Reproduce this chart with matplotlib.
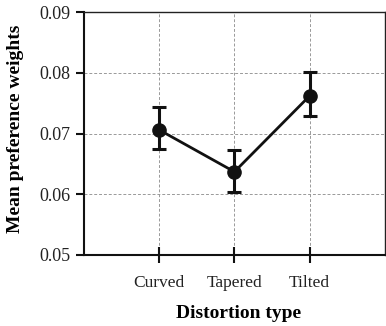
import matplotlib
matplotlib.use("Agg")
import matplotlib.pyplot as plt

categories = ["Curved", "Tapered", "Tilted"]
means = [0.0706, 0.0637, 0.0762]
err_low = [0.0675, 0.0604, 0.0729]
err_high = [0.0744, 0.0673, 0.0801]

plt.rcParams["font.family"] = ["Liberation Serif", "DejaVu Serif"]

fig = plt.figure(figsize=(3.86, 3.26), dpi=100)
ax = fig.add_axes([0.2176, 0.2178, 0.7794, 0.7452])

x = list(range(1, len(categories) + 1))
yerr = [[m - lo for m, lo in zip(means, err_low)],
        [hi - m for m, hi in zip(means, err_high)]]

ax.errorbar(x, means, yerr=yerr, color="#111111", linewidth=2.0,
            marker="o", markersize=9.5, elinewidth=2.2, capsize=4.8,
            capthick=2.2, zorder=3)

ax.set_xlim(0, 4)
ax.set_ylim(0.05, 0.09)
ax.set_xticks(x)
ax.set_xticklabels(categories)
ax.set_yticks([0.05, 0.06, 0.07, 0.08, 0.09])
ax.set_yticklabels(["0.05", "0.06", "0.07", "0.08", "0.09"])

ax.grid(True, linestyle=(0, (3, 2)), color="#999999", linewidth=0.7)
ax.set_axisbelow(True)

for side in ["left", "bottom"]:
    ax.spines[side].set_linewidth(1.5)
    ax.spines[side].set_color("#111111")
for side in ["top", "right"]:
    ax.spines[side].set_linewidth(1.0)
    ax.spines[side].set_color("#222222")

ax.tick_params(axis="x", direction="inout", length=11, width=1.5,
               labelsize=12.5, colors="#111111", labelcolor="#222222", pad=9)
ax.tick_params(axis="y", direction="out", length=6, width=1.5,
               labelsize=13, colors="#111111", labelcolor="#222222", pad=4)

ax.set_xlabel("Distortion type", fontsize=14, fontweight="bold")
ax.set_ylabel("Mean preference weights", fontsize=14, fontweight="bold")
ax.xaxis.set_label_coords(0.515, -0.205)
ax.yaxis.set_label_coords(-0.2, 0.52)

fig.savefig("out.png", dpi=100, facecolor="white")
